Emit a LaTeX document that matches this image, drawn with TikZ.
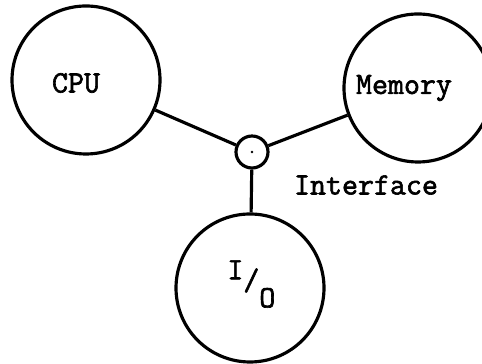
\documentclass[tikz,border=0pt]{standalone}
\usepackage{fontspec}
\setmonofont{Latin Modern Mono}[FakeBold=2]
\usepackage{tikz}

\begin{document}
\begin{tikzpicture}[unit/.style={draw, circle, minimum size=4.44cm}, line width=2.7pt, font=\ttfamily\fontsize{26.5}{31}\selectfont]
    \useasboundingbox (0,0) rectangle (14.46,10.92);
    \node[unit, label={[xshift=-0.3cm, yshift=-0.09cm]center:CPU}] (cpu) at (2.58,8.52) {};
    \node[unit, label={[xshift=-0.42cm]center:Memory}] (mem) at (12.54,8.28) {};
    \node[unit] (io) at (7.5,2.28) {};
    \node[draw, circle, minimum size=0.96cm] (port) at (7.56,6.36) {};
    \node (portlabel) at (10.98,5.37) {Interface};
    \node[anchor=base] (iolabel) at (7.54,2.28) {\raisebox{0.26cm}{I}\raisebox{-0.06cm}{/}\raisebox{-0.58cm}{O}};
    \fill (port.center) circle (1.2pt);

    \draw (cpu) -- (port);
    \draw (mem) -- (port);
    \draw (port) -- (io);
  \end{tikzpicture}
\end{document}
